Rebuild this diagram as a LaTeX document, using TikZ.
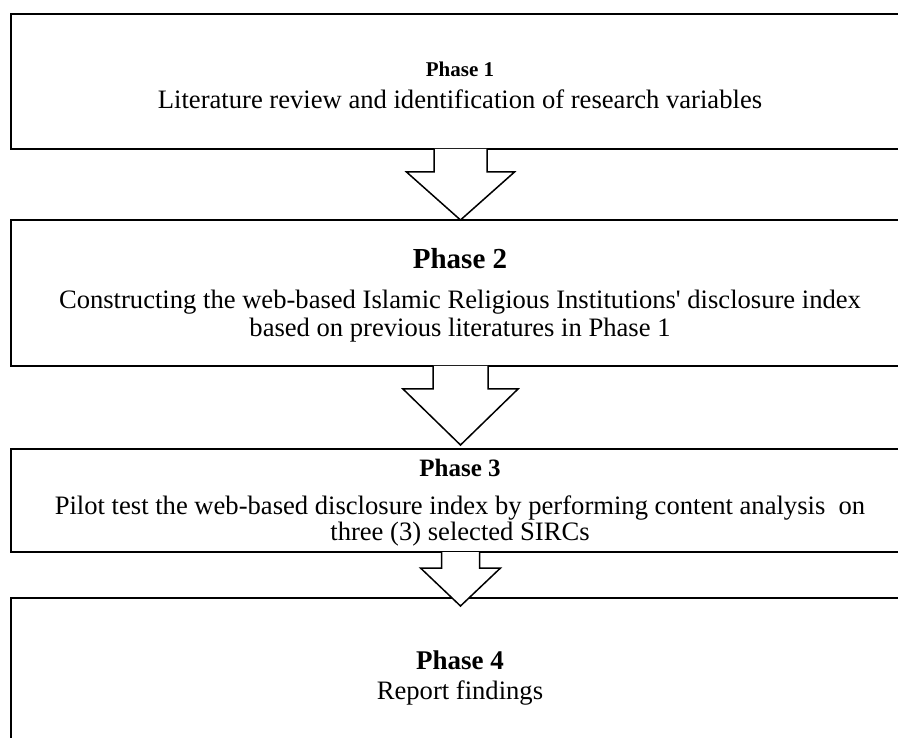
\documentclass[tikz,border=0pt]{standalone}
\usepackage{fontspec}
\setmainfont[Ligatures=TeXOff]{Liberation Serif}
\usetikzlibrary{calc}
\begin{document}
\begin{tikzpicture}[x=1pt,y=-1pt,
  phasebox/.style={draw, line width=2pt, minimum width=899pt, inner sep=0pt},
  body/.style={anchor=base, inner sep=0pt, font=\fontsize{26.6}{28}\selectfont},
  head/.style={anchor=base, inner sep=0pt, font=\fontsize{#1}{#1}\selectfont\bfseries},
  blockarrow/.style={fill=white, draw, line width=1.5pt, line join=miter}]
\useasboundingbox (0,0) rectangle (898,738);
\clip (0,0) rectangle (898,738);
% boxes
\node[phasebox, minimum height=135pt] (p1) at (460.5,81.5) {};
\node[phasebox, minimum height=146pt] (p2) at (460.5,293) {};
\node[phasebox, minimum height=103pt] (p3) at (460.5,500.5) {};
\node[phasebox, minimum height=160pt] (p4) at (460.5,678) {};
% texts
\node[head=21] (h1) at (460,77) {Phase 1};
\node[body] (b1) at (460,109) {Literature review and identification of research variables};
\node[head=29] (h2) at (460,269) {Phase 2};
\node[body] (b2a) at (460,309) {Constructing the web-based Islamic Religious Institutions' disclosure index};
\node[body] (b2b) at (460,337) {based on previous literatures in Phase 1};
\node[head=25] (h3) at (460,476) {Phase 3};
\node[body] (b3a) at (460,514) {Pilot test the web-based disclosure index by performing content analysis\ \ on};
\node[body] (b3b) at (460,540) {three (3) selected SIRCs};
\node[head=27] (h4) at (460,669) {Phase 4};
\node[body] (b4) at (460,699) {Report findings};
% block arrows
\filldraw[blockarrow] ($(p1.south)+(-26.5,-1)$) -- ($(p1.south)+(-26.5,22)$) -- ($(p1.south)+(-54,22)$)
  -- ($(p2.north)+(0,1)$) -- ($(p1.south)+(54,22)$) -- ($(p1.south)+(26.5,22)$) -- ($(p1.south)+(26.5,-1)$);
\filldraw[blockarrow] ($(p2.south)+(-27.5,-1)$) -- ($(p2.south)+(-27.5,22)$) -- ($(p2.south)+(-57.5,22)$)
  -- ($(p3.north)+(0,-3)$) -- ($(p2.south)+(57.5,22)$) -- ($(p2.south)+(27.5,22)$) -- ($(p2.south)+(27.5,-1)$);
\filldraw[blockarrow] ($(p3.south)+(-19,-1)$) -- ($(p3.south)+(-19,15)$) -- ($(p3.south)+(-40,15)$)
  -- ($(p4.north)+(0,9)$) -- ($(p3.south)+(40,15)$) -- ($(p3.south)+(19,15)$) -- ($(p3.south)+(19,-1)$);
\end{tikzpicture}
\end{document}
